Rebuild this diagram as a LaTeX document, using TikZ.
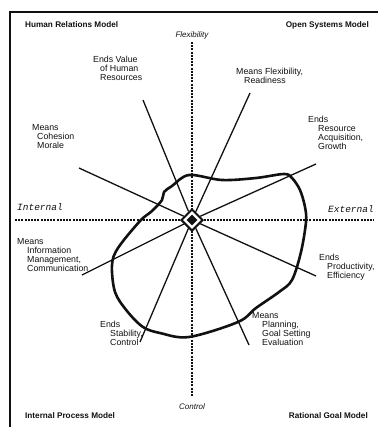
\documentclass[tikz,border=0pt]{standalone}
\usepackage{fontspec}
\setmainfont{Liberation Sans}
\newfontfamily\typefont{Liberation Mono}
\usepackage{tikz}
\usetikzlibrary{shapes.geometric,positioning,calc}
\usepackage{xcolor}
\definecolor{ink}{HTML}{111111}
\tikzset{spoke/.style={draw=ink,line width=1.3bp},axis/.style={draw=ink,line width=1.3bp,dash pattern=on 2bp off 1.2bp},blob/.style={draw=ink,line width=2.6bp,line join=round},frame/.style={draw=ink,line width=1.7bp},lbl/.style={anchor=base west,align=left,inner sep=0pt,text=ink,font=\fontsize{8.8bp}{9bp}\selectfont},model/.style={inner sep=0pt,text=ink,font=\bfseries\fontsize{8.2bp}{9bp}\selectfont},pole/.style={inner sep=0pt,text=ink,font=\itshape\fontsize{8bp}{9bp}\selectfont},side/.style={inner sep=0pt,text=ink,font=\typefont\itshape\fontsize{9.5bp}{10bp}\selectfont}}
\newcommand{\ind}[1]{\hspace*{#1bp}}

\begin{document}
\begin{tikzpicture}[x=1bp,y=-1bp]
  \useasboundingbox (0,0) rectangle (378,427);
  % frame
  \coordinate (fl) at (10,12); \coordinate (fr) at (378,12); \coordinate (fb) at (10,427);
  \draw[frame] (fr) -- (fl) -- (fb);
  % quadrant models
  \node[model,anchor=west] (hrm) at (25,25) {Human Relations Model};
  \node[model,anchor=east] (osm) at (369,25) {Open Systems Model};
  \node[model,anchor=west] (ipm) at (25,416) {Internal Process Model};
  \node[model,anchor=east] (rgm) at (368,416) {Rational Goal Model};
  % axes
  \node[pole] (flex) at (192,35) {Flexibility};
  \node[pole] (ctrl) at (192,407) {Control};
  \node[side] (int) at (40,207) {Internal};
  \node[side] (ext) at (351,209) {External};
  \coordinate (vtop) at (192,42); \coordinate (vbot) at (192,397);
  \coordinate (hlft) at (15,220); \coordinate (hrgt) at (374,220);
  \draw[axis] (vtop) -- (vbot);
  \draw[axis] (hlft) -- (hrgt);
  % effectiveness profile
  \draw[blob] plot[smooth cycle,tension=0.55] coordinates {(172,186) (189,175) (222,180) (256,178) (284,174) (292,178) (300,190) (305,207) (306,222) (301,252) (292,280) (279,292) (256,308) (238,322) (189,337) (160,333) (143,327) (127,311) (115,292) (112,265) (118,248) (140,221) (152,211) (162,200) (164,192)};
  % spokes
  \node[lbl] (vhr) at (93,80) {Ends Value\\\ind{7}of Human\\\ind{7}Resources};
  \node[lbl] (flx) at (236,83) {Means Flexibility,\\\ind{8}Readiness};
  \node[lbl] (acq) at (308,149) {Ends\\\ind{10}Resource\\\ind{10}Acquisition,\\\ind{10}Growth};
  \node[lbl] (prd) at (319,278) {Ends\\\ind{8}Productivity,\\\ind{8}Efficiency};
  \node[lbl] (pln) at (252,345) {Means\\\ind{10}Planning,\\\ind{10}Goal Setting\\\ind{10}Evaluation};
  \node[lbl] (stb) at (100,345) {Ends\\\ind{10}Stability,\\\ind{10}Control};
  \node[lbl] (inf) at (17,271) {Means\\\ind{10}Information\\\ind{10}Management,\\\ind{10}Communication};
  \node[lbl] (coh) at (32,148) {Means\\\ind{5}Cohesion\\\ind{5}Morale};
  \coordinate (evhr) at (143,100); \coordinate (eflx) at (250,93);
  \coordinate (eacq) at (316,164); \coordinate (eprd) at (316,276);
  \coordinate (epln) at (249,345); \coordinate (estb) at (140,342);
  \coordinate (einf) at (82,275); \coordinate (ecoh) at (79,168);
  \node[diamond,draw=ink,line width=2bp,fill=white,minimum size=22bp,inner sep=0pt] (hub) at (192,220) {};
  \node[diamond,fill=ink,minimum size=11bp,inner sep=0pt] (core) at (hub) {};
  \foreach \e in {evhr,eflx,eacq,eprd,epln,estb,einf,ecoh}
    \draw[spoke] (hub) -- (\e);
\end{tikzpicture}
\end{document}
